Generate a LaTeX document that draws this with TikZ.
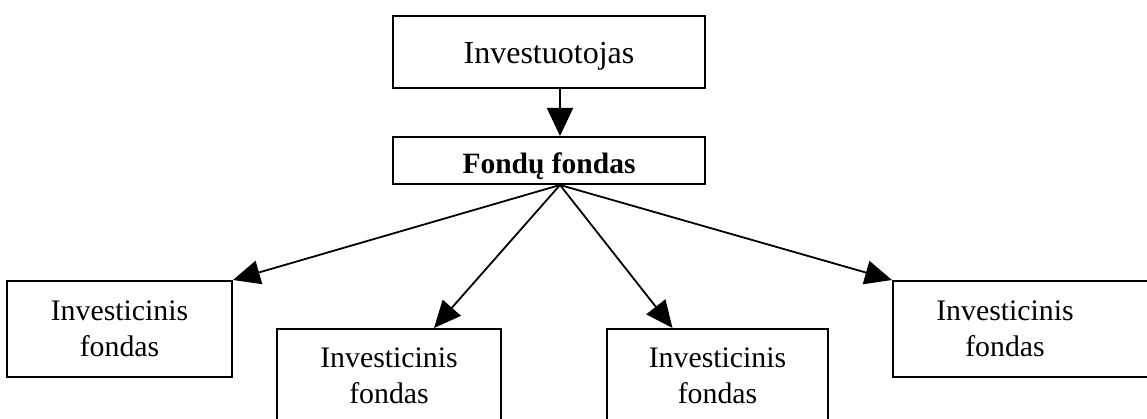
\documentclass[tikz,border=0pt]{standalone}
\usepackage{fontspec}
\setmainfont{Liberation Serif}
\usetikzlibrary{arrows.meta,calc}
\begin{document}
\begin{tikzpicture}[x=1pt,y=-1pt,
  box/.style={draw,line width=2pt,inner sep=0pt,align=center},
  fundbox/.style={box,minimum width=224pt,minimum height=96pt,
    font=\fontsize{29.8}{36}\selectfont},
  fundtext/.style={inner sep=0pt,align=center,font=\fontsize{29.8}{36}\selectfont},
  conn/.style={line width=1.9pt,-{Triangle[length=28pt,width=26pt]}},
  sconn/.style={line width=1.8pt,-{Triangle[length=27pt,width=24pt]}}]
\useasboundingbox (0,0) rectangle (1147,419);
\fill[white] (0,0) rectangle (1147,419);
\clip (0,0) rectangle (1147,419);
% top boxes
\node[box,minimum width=312pt,minimum height=72pt,text height=24pt,text depth=0pt,
  font=\fontsize{32}{38}\selectfont] (inv) at (549,52) {Investuotojas};
\node[box,minimum width=312pt,minimum height=47pt,text height=27pt,text depth=0pt,
  font=\fontsize{29.5}{34}\selectfont\bfseries] (ff) at (549,160.5) {Fondų fondas};
% lower boxes
\node[fundbox,minimum width=225pt] (l) at (119.5,329) {Investicinis\\fondas};
\node[fundbox,minimum height=94pt] (ml) at (389,376) {Investicinis\\fondas};
\node[fundbox,minimum width=221pt,minimum height=94pt] (mr) at (717.5,376) {Investicinis\\fondas};
\node[box,minimum width=259pt,minimum height=96pt] (r) at (1022.5,329) {};
\node[fundtext] (rt) at (1005,329) {Investicinis\\fondas};
% connectors
\coordinate (inout) at ($(inv.south)+(11,0)$);
\coordinate (ffin) at ($(ff.north)+(11,0)$);
\coordinate (src) at ($(ff.south)+(11,0)$);
\coordinate (mltip) at ($(ml.north)+(45,0)$);
\coordinate (mrtip) at ($(mr.north)+(-45,0)$);
\draw[conn] (inout) -- (ffin);
\draw[sconn] (src) -- (l.north east);
\draw[sconn] (src) -- (mltip);
\draw[sconn] (src) -- (mrtip);
\draw[sconn] (src) -- (r.north west);
\end{tikzpicture}
\end{document}
